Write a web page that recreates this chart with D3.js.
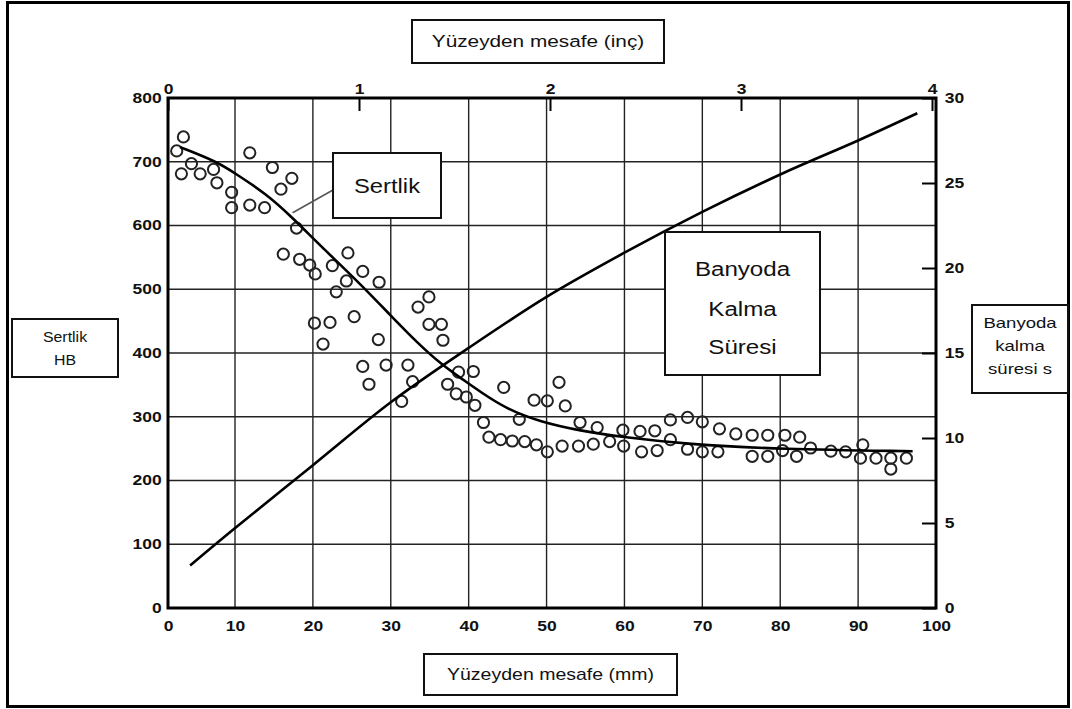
<!DOCTYPE html>
<html>
<head>
<meta charset="utf-8">
<script src="https://cdn.jsdelivr.net/npm/d3@7"></script>
<style>
  html, body { margin: 0; padding: 0; background: #fff; }
  svg { display: block; }
  text { font-family: "Liberation Sans", Arial, sans-serif; fill: #111; }
</style>
</head>
<body>
<svg id="chart" width="1072" height="709"></svg>
<script>
// distance from surface (mm), hardness HB
const hardnessPoints = [
  [1.3,717],[2.3,739],[3.5,697],[2.0,681],[4.8,681],[6.8,688],[7.3,667],[9.5,652],[9.5,628],
  [11.9,714],[11.9,632],[13.8,628],[14.8,691],[15.9,657],[17.3,674],[17.9,596],[16.2,555],
  [18.3,547],[19.6,538],[20.3,524],[22.5,537],[23.0,496],[24.5,557],[24.3,513],[26.4,528],
  [28.5,511],[20.2,447],[22.2,448],[25.3,457],[21.3,414],[28.4,421],[26.4,379],[27.2,351],
  [29.4,381],[32.2,381],[32.8,355],[31.4,324],[33.5,472],[34.9,488],[34.9,445],[36.5,445],
  [36.7,420],[38.7,370],[40.6,371],[37.3,351],[38.4,336],[39.7,331],[40.8,318],[41.9,291],
  [44.5,346],[42.6,268],[44.1,264],[45.6,262],[47.2,261],[48.7,256],[50.1,245],[46.5,296],
  [48.4,326],[50.1,325],[51.6,354],[52.4,317],[52.0,254],[54.1,254],[54.3,291],[56.0,257],
  [56.5,283],[58.1,261],[59.8,279],[59.9,254],[62.0,277],[63.9,278],[62.2,245],[64.2,247],
  [65.9,295],[65.9,264],[68.1,299],[68.1,249],[70.0,292],[70.0,245],[72.0,245],[72.2,281],
  [74.3,273],[76.4,271],[78.4,271],[80.6,271],[82.5,268],[76.4,238],[78.4,238],[80.3,247],
  [82.1,238],[83.9,251],[86.5,246],[88.4,245],[90.6,256],[90.3,235],[92.3,235],[94.2,235],
  [94.2,218],[96.2,235]
];

// fitted hardness curve (mm, HB)
const hardnessCurve = [
  [1.8,723],[7.3,700],[9.7,684],[14.1,649],[17.4,612],[20.9,569],[25.7,513],[29.9,460],
  [33.4,416],[36.6,381],[39.3,358],[41.5,339],[44.9,312],[49.2,292],[54.3,278],[59.8,268],
  [68,257],[80,249],[97,246]
];

// time in bath (mm, s)
const timeCurve = [
  [3.3,2.5],[9.7,4.6],[20,8.4],[30,12.1],[40,15.3],[50,18.3],
  [60,20.9],[70,23.3],[80,25.5],[90,27.5],[97.6,29.1]
];

const mmTicks = [0,10,20,30,40,50,60,70,80,90,100];
const inchTicks = [0,1,2,3,4];
const hbTicks = [0,100,200,300,400,500,600,700,800];
const timeTicks = [0,5,10,15,20,25,30];

const svg = d3.select("#chart");
const pL = 168, pR = 936, pT = 98, pB = 608;

// the original drawing has a narrower first interval, keep it
const x = d3.scaleLinear().domain([0, 10, 100]).range([pL, 235, pR]);
const xIn = d3.scaleLinear().domain([0, 4]).range([pL, 932]);
const yL = d3.scaleLinear().domain([0, 800]).range([pB, pT]);
const yR = d3.scaleLinear().domain([0, 30]).range([pB, pT]);

// outer frame
svg.append("rect")
  .attr("x", 7.5).attr("y", 2.5).attr("width", 1061).attr("height", 704)
  .attr("fill", "#fff").attr("stroke", "#000").attr("stroke-width", 3);

// grid
const grid = svg.append("g").attr("stroke", "#222").attr("stroke-width", 1.4);
grid.selectAll("line.v").data(mmTicks.slice(1, -1)).enter().append("line")
  .attr("x1", d => x(d)).attr("x2", d => x(d)).attr("y1", pT).attr("y2", pB);
grid.selectAll("line.h").data(hbTicks.slice(1, -1)).enter().append("line")
  .attr("y1", d => yL(d)).attr("y2", d => yL(d)).attr("x1", pL).attr("x2", pR);

// axes
const sx = 1.25;
function styleTicks(g) {
  g.select(".domain").remove();
  g.selectAll(".tick line").attr("stroke", "#000").attr("stroke-width", 2);
  g.selectAll(".tick text")
    .attr("font-size", 14).attr("font-weight", "bold").attr("fill", "#111")
    .attr("font-family", "'Liberation Sans', Arial, sans-serif")
    .attr("transform", `scale(${sx},1)`);
}

svg.append("g").attr("transform", `translate(0,${pB})`)
  .call(d3.axisBottom(x).tickValues(mmTicks).tickSize(0).tickPadding(13))
  .call(styleTicks);

svg.append("g").attr("transform", `translate(${pL},0)`)
  .call(d3.axisLeft(yL).tickValues(hbTicks).tickSize(0).tickPadding(5))
  .call(styleTicks);

svg.append("g").attr("transform", `translate(${pR},0)`)
  .call(d3.axisRight(yR).tickValues(timeTicks).tickSize(-14).tickPadding(7))
  .call(styleTicks);

svg.append("g").attr("transform", `translate(0,${pT})`)
  .call(d3.axisTop(xIn).tickValues(inchTicks).tickFormat(d3.format("d")).tickSize(-13).tickPadding(4))
  .call(styleTicks);

// data circles
svg.append("g")
  .selectAll("circle").data(hardnessPoints).enter().append("circle")
  .attr("cx", d => x(d[0])).attr("cy", d => yL(d[1])).attr("r", 5.6)
  .attr("fill", "none").attr("stroke", "#222").attr("stroke-width", 2);

// curves
const lineL = d3.line().x(d => x(d[0])).y(d => yL(d[1])).curve(d3.curveBasis);
const lineR = d3.line().x(d => x(d[0])).y(d => yR(d[1])).curve(d3.curveCatmullRom.alpha(0.5));
svg.append("path").datum(hardnessCurve).attr("d", lineL)
  .attr("fill", "none").attr("stroke", "#000").attr("stroke-width", 2.6);
svg.append("path").datum(timeCurve).attr("d", lineR)
  .attr("fill", "none").attr("stroke", "#000").attr("stroke-width", 2.6);

// plot frame
svg.append("rect")
  .attr("x", pL).attr("y", pT).attr("width", pR - pL).attr("height", pB - pT)
  .attr("fill", "none").attr("stroke", "#000").attr("stroke-width", 3);

// leader line for the "Sertlik" label
svg.append("line")
  .attr("x1", x(17.4)).attr("y1", yL(620)).attr("x2", 333).attr("y2", 190)
  .attr("stroke", "#555").attr("stroke-width", 1.5);

// label boxes
function box(x0, y0, x1, y1, lines, size, scale, lineYs) {
  const g = svg.append("g");
  g.append("rect").attr("x", x0).attr("y", y0).attr("width", x1 - x0).attr("height", y1 - y0)
    .attr("fill", "#fff").attr("stroke", "#111").attr("stroke-width", 2);
  const cx = (x0 + x1) / 2;
  lines.forEach((t, i) => {
    g.append("text")
      .attr("transform", `translate(${cx},${lineYs[i]}) scale(${scale},1)`)
      .attr("text-anchor", "middle").attr("dy", "0.36em")
      .attr("font-size", size).text(t);
  });
}

box(412, 20, 664, 63, ["Yüzeyden mesafe (inç)"], 16.5, 1.26, [41.5]);
box(424, 654, 677, 695, ["Yüzeyden mesafe (mm)"], 16, 1.22, [674]);
box(333, 153, 441, 218, ["Sertlik"], 19.5, 1.22, [186]);
box(665, 232, 820, 375, ["Banyoda", "Kalma", "Süresi"], 21, 1.15, [268, 308, 346]);
box(12, 319, 118, 377, ["Sertlik", "HB"], 15, 1.06, [337, 360]);
box(972, 305, 1068, 393, ["Banyoda", "kalma", "süresi s"], 14.5, 1.28, [323, 346, 369]);
</script>
</body>
</html>
